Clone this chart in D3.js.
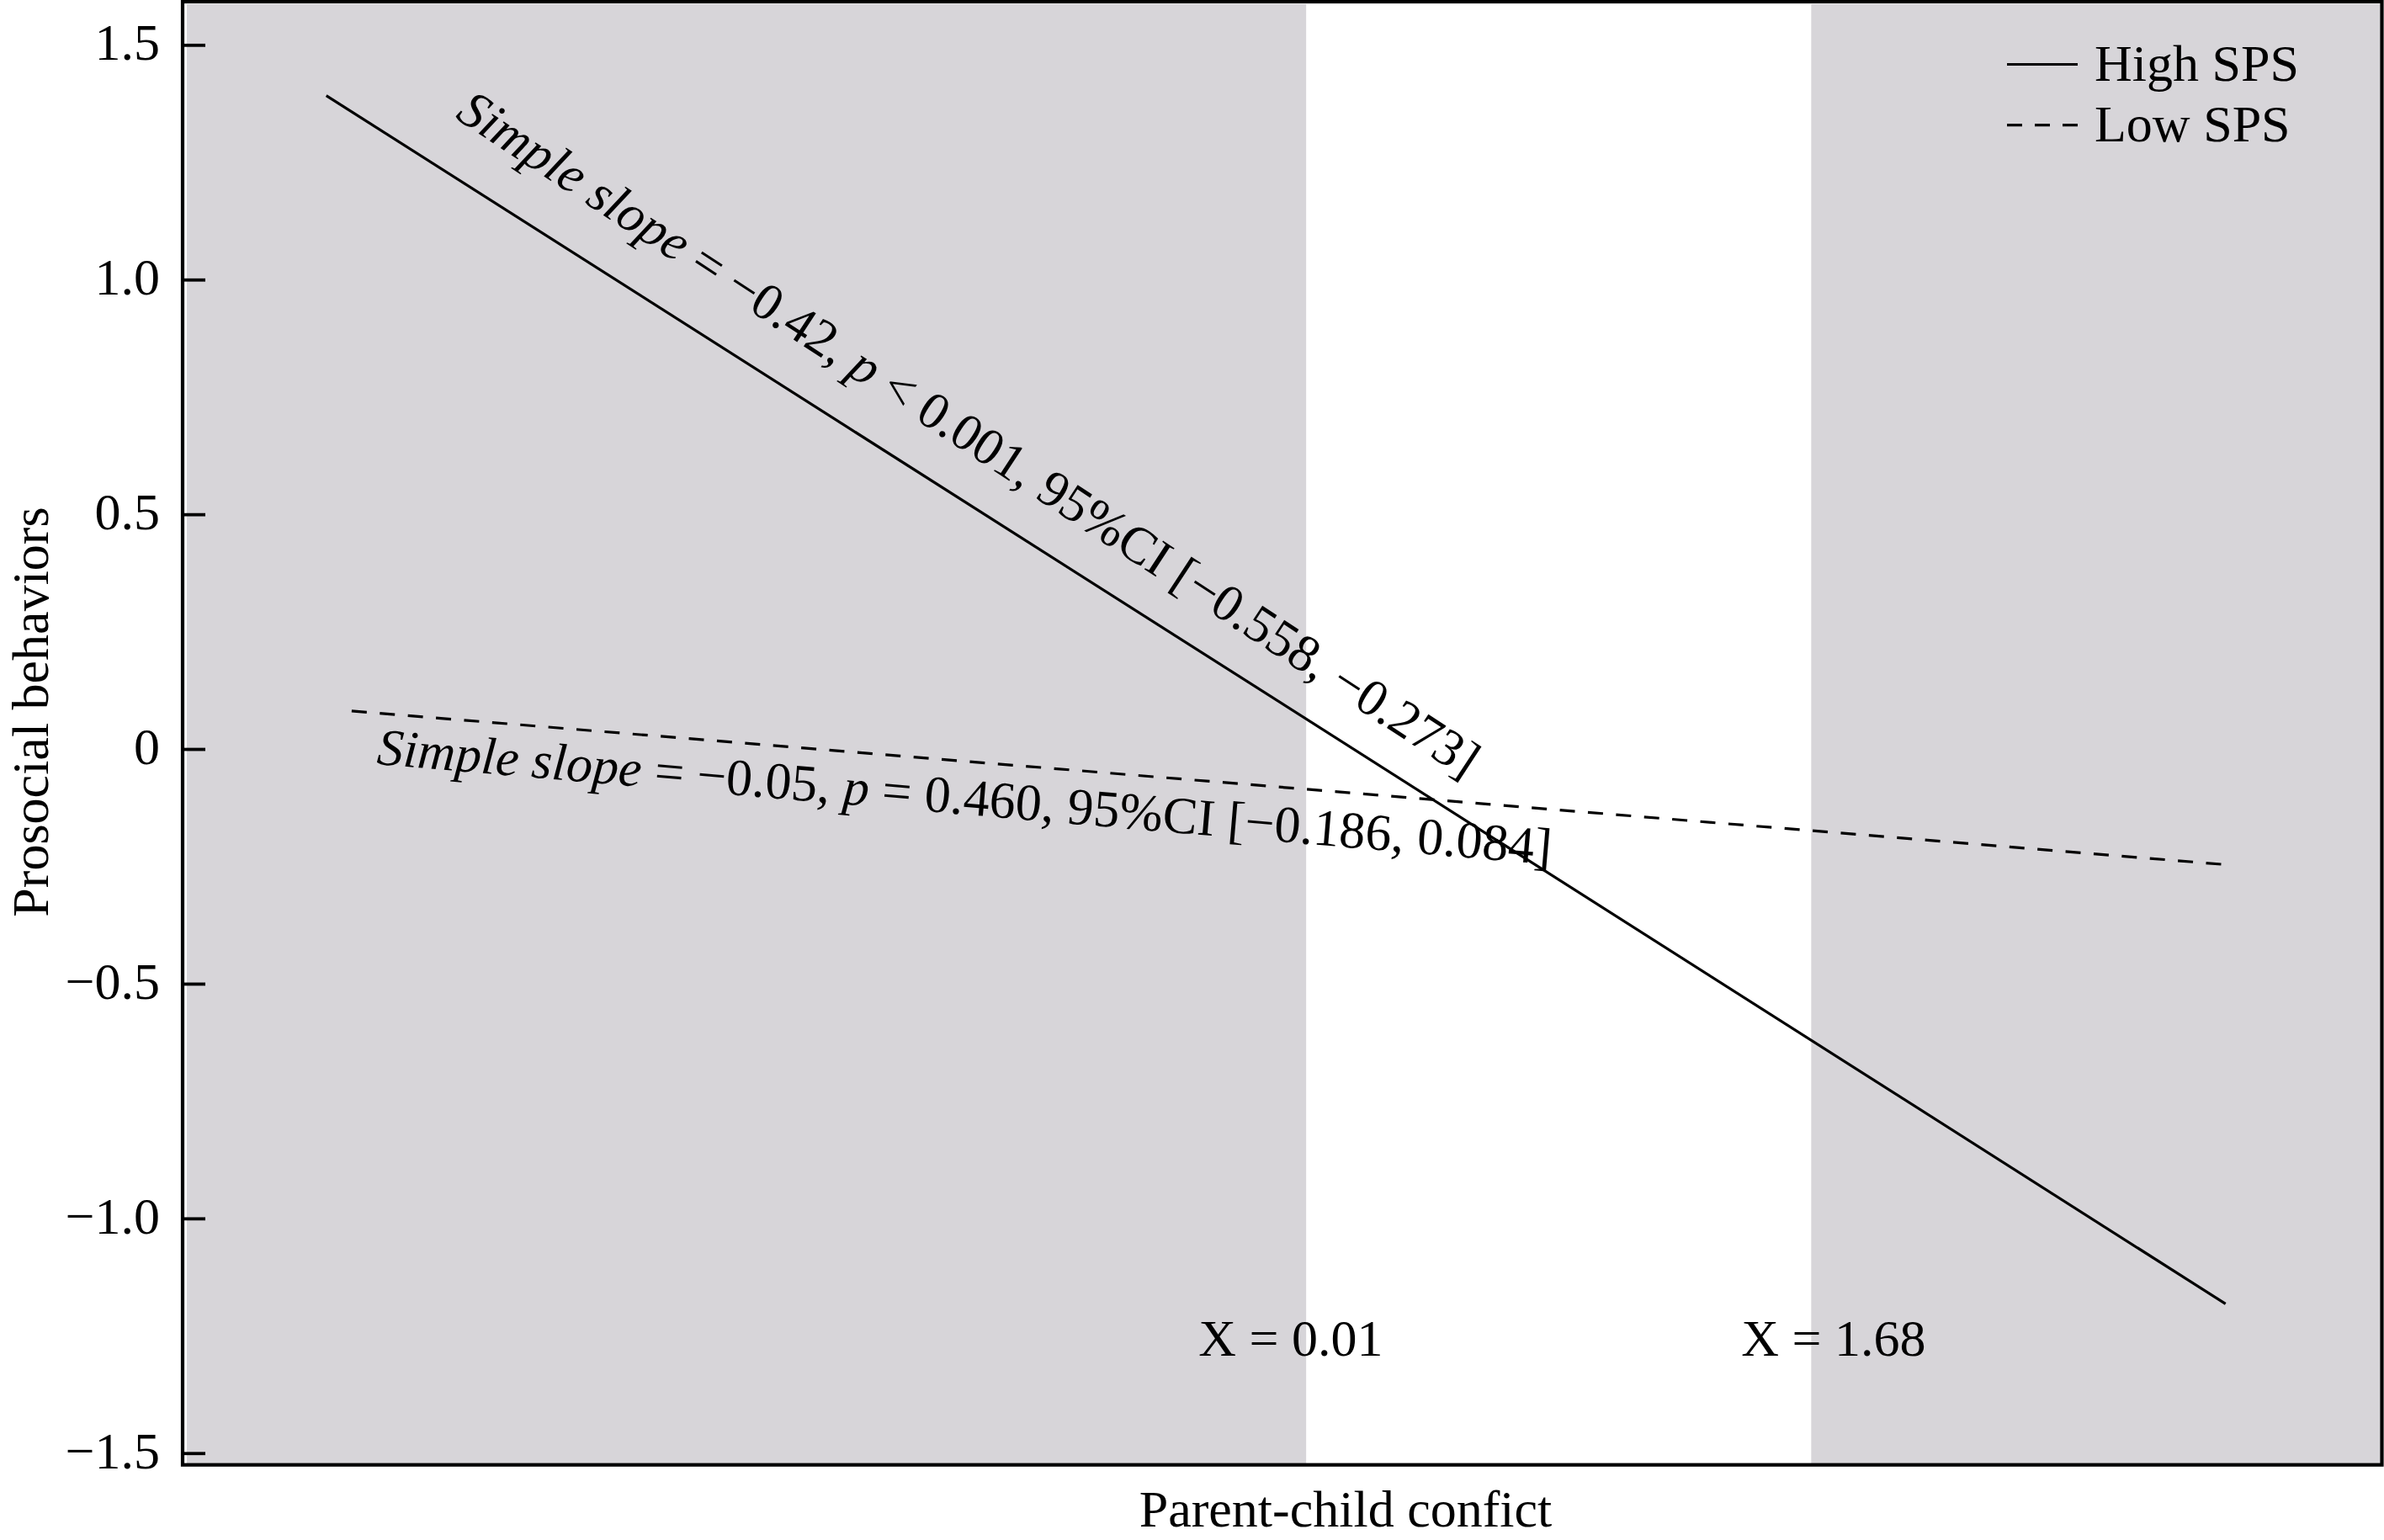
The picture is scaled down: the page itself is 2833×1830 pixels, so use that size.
<!DOCTYPE html>
<html>
<head>
<meta charset="utf-8">
<script src="https://cdn.jsdelivr.net/npm/d3@7"></script>
<style>
  html, body { margin: 0; padding: 0; background: #fff; }
  svg { display: block; }
  text { font-family: "Liberation Serif", "Times New Roman", serif; fill: #000; }
</style>
</head>
<body>
<div id="chart"></div>
<script>
// ---- data ----
const highX = [-3.23, 3.05];            // x range of High SPS line (parent-child conflict)
const highSPS = [1.392, -1.182];        // predicted prosocial behaviors, High SPS
const lowX = [-3.146, 3.063];           // x range of Low SPS line
const lowSPS = [0.081, -0.247];         // predicted prosocial behaviors, Low SPS
const jnPoints = [0.01, 1.68];          // Johnson–Neyman boundaries
const yTicks = [-1.5, -1.0, -0.5, 0, 0.5, 1.0, 1.5];
const yTickLabels = ["\u22121.5", "\u22121.0", "\u22120.5", "0", "0.5", "1.0", "1.5"];
const seriesNames = ["High SPS", "Low SPS"];
const xDomain = [-3.705, 3.567];
const yDomain = [-1.525, 1.592];

const W = 2833, H = 1830;
const FONT = 62;

const svg = d3.select("#chart").append("svg")
  .attr("width", W).attr("height", H);

const x = d3.scaleLinear().domain(xDomain).range([217, 2830.5]);
const y = d3.scaleLinear().domain(yDomain).range([1740.7, 2]);

// shaded regions of significance
const shade = "#d7d5d9";
svg.append("rect")
  .attr("x", x(xDomain[0]) + 5).attr("y", y(yDomain[1]) + 3)
  .attr("width", x(jnPoints[0]) - x(xDomain[0]) - 5)
  .attr("height", y(yDomain[0]) - y(yDomain[1]) - 3)
  .attr("fill", shade);
svg.append("rect")
  .attr("x", x(jnPoints[1])).attr("y", y(yDomain[1]) + 3)
  .attr("width", x(xDomain[1]) - x(jnPoints[1]))
  .attr("height", y(yDomain[0]) - y(yDomain[1]) - 3)
  .attr("fill", shade);

// lines
const line = d3.line().x(d => x(d[0])).y(d => y(d[1]));
svg.append("path")
  .attr("d", line(highX.map((v, i) => [v, highSPS[i]])))
  .attr("fill", "none").attr("stroke", "#000").attr("stroke-width", 3.2);
svg.append("path")
  .attr("d", line(lowX.map((v, i) => [v, lowSPS[i]])))
  .attr("fill", "none").attr("stroke", "#000").attr("stroke-width", 3.2)
  .attr("stroke-dasharray", "18,15.5");

// frame
svg.append("rect")
  .attr("x", x(xDomain[0])).attr("y", y(yDomain[1]))
  .attr("width", x(xDomain[1]) - x(xDomain[0]))
  .attr("height", y(yDomain[0]) - y(yDomain[1]))
  .attr("fill", "none").attr("stroke", "#000").attr("stroke-width", 4.2);

// y axis
const yAxis = d3.axisLeft(y)
  .tickValues(yTicks)
  .tickFormat((d, i) => yTickLabels[i])
  .tickSizeInner(-27).tickSizeOuter(0).tickPadding(27);
const gy = svg.append("g").attr("transform", `translate(${x(xDomain[0])},0)`).call(yAxis);
gy.select(".domain").remove();
gy.selectAll(".tick line").attr("stroke", "#000").attr("stroke-width", 3.8);
gy.selectAll(".tick text")
  .attr("font-size", FONT)
  .attr("font-family", "Liberation Serif, Times New Roman, serif")
  .attr("fill", "#000")
  .attr("dy", "0.28em");

// axis titles
svg.append("text")
  .attr("x", 1599).attr("y", 1814)
  .attr("text-anchor", "middle").attr("font-size", FONT)
  .text("Parent-child confict");
svg.append("text")
  .attr("transform", "translate(57,846) rotate(-90)")
  .attr("text-anchor", "middle").attr("font-size", FONT)
  .text("Prosocial behaviors");

// J-N labels
svg.append("text")
  .attr("x", x(jnPoints[0]) - 128).attr("y", 1611)
  .attr("font-size", FONT)
  .text("X = " + jnPoints[0].toFixed(2));
svg.append("text")
  .attr("x", x(jnPoints[1]) - 83).attr("y", 1611)
  .attr("font-size", FONT)
  .text("X = " + jnPoints[1].toFixed(2));

// slope annotations
function annot(px, py, ang, parts) {
  const t = svg.append("text")
    .attr("transform", `translate(${px},${py}) rotate(${ang})`)
    .attr("font-size", FONT);
  parts.forEach(p => {
    t.append("tspan").attr("font-style", p[1] ? "italic" : "normal").text(p[0]);
  });
}
annot(x(-2.807), y(1.345), 33.2, [
  ["Simple slope", true], [" = \u22120.42, ", false], ["p", true],
  [" < 0.001, 95%CI [\u22120.558, \u22120.273]", false]
]);
annot(x(-3.065), y(-0.032), 4.9, [
  ["Simple slope", true], [" = \u22120.05, ", false], ["p", true],
  [" = 0.460, 95%CI [\u22120.186, 0.084]", false]
]);

// legend
const lg = svg.append("g");
const legY = [76.5, 148.6];
seriesNames.forEach((name, i) => {
  lg.append("line")
    .attr("x1", 2385).attr("x2", 2469)
    .attr("y1", legY[i]).attr("y2", legY[i])
    .attr("stroke", "#000").attr("stroke-width", 3.2)
    .attr("stroke-dasharray", i === 1 ? "18,15" : null);
  lg.append("text")
    .attr("x", 2489).attr("y", legY[i] + 19)
    .attr("font-size", FONT)
    .text(name);
});
</script>
</body>
</html>
